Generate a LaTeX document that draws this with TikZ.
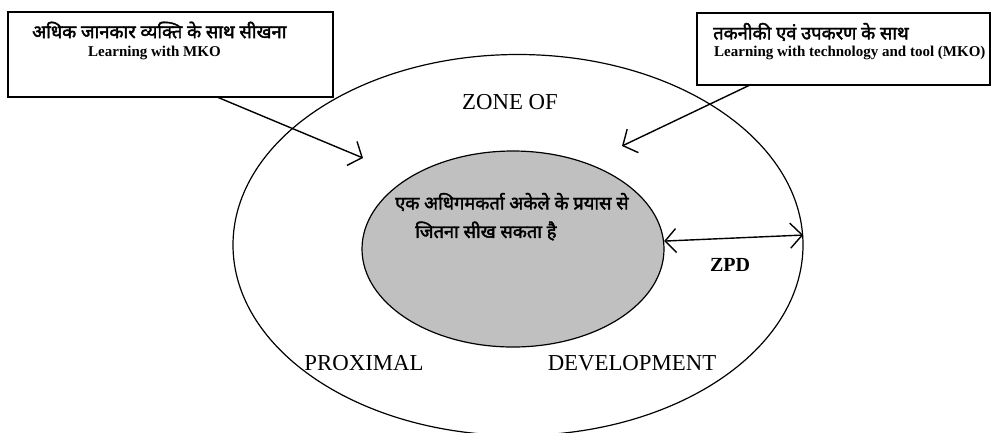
\documentclass[tikz,border=0pt]{standalone}
\usepackage{fontspec}
\setmainfont{Liberation Serif}
\newfontfamily\hindi[Script=Devanagari,FakeBold=2.2]{Noto Sans}
\usetikzlibrary{shapes.geometric,arrows.meta}
\definecolor{innergray}{RGB}{192,192,192}
\tikzset{
  ring/.style={ellipse, draw, line width=1.2pt, inner sep=0pt},
  notebox/.style={rectangle, draw, line width=1.8pt, inner sep=0pt},
  hi/.style={font=\hindi\fontsize{18.3}{22}\selectfont, inner sep=0pt, anchor=west},
  en/.style={font=\bfseries\fontsize{15}{18}\selectfont, inner sep=0pt, anchor=west},
  zone/.style={font=\fontsize{22.8}{26}\selectfont, inner sep=0pt},
  pointer/.style={line width=1.4pt, -{Straight Barb[length=11pt,width=26pt]}},
  span/.style={line width=1.4pt, {Straight Barb[length=11pt,width=24pt]}-{Straight Barb[length=12pt,width=25pt]}}
}
\begin{document}
\begin{tikzpicture}[x=1pt,y=-1pt]
\useasboundingbox (0,0) rectangle (992,432);
% rings
\node[ring, minimum width=570pt, minimum height=381pt] (outer) at (518,245) {};
\node[ring, fill=innergray, minimum width=302pt, minimum height=196pt] (inner) at (513,249) {};
% boxes
\node[notebox, minimum width=325pt, minimum height=85pt] (lbox) at (170.5,54.5) {};
\node[notebox, minimum width=293pt, minimum height=72pt] (rbox) at (843.5,49) {};
% box texts
\node[hi] (lhi) at (32,30) {अधिक जानकार व्यक्ति के साथ सीखना};
\node[en] (len) at (88,53) {Learning with MKO};
\node[hi] (rhi) at (713,32) {तकनीकी एवं उपकरण के साथ};
\node[en] (ren) at (714,53) {Learning with technology and tool (MKO)};
% inner text
\node[hi] (ihi1) at (395,202) {एक अधिगमकर्ता अकेले के प्रयास से};
\node[hi] (ihi2) at (415,231) {जितना सीख सकता है};
% zone labels
\node[zone] (zone) at (510,102) {ZONE OF};
\node[zone] (prox) at (364,363) {PROXIMAL};
\node[zone] (dev) at (632,363) {DEVELOPMENT};
\node[font=\bfseries\fontsize{20}{24}\selectfont, inner sep=0pt] (zpd) at (730,265) {ZPD};
% connectors
\coordinate (lstart) at (217,97);
\coordinate (ltip) at (363,158);
\coordinate (rstart) at (750,85);
\coordinate (rtip) at (622,146);
\draw[pointer] (lstart) -- (ltip);
\draw[pointer] (rstart) -- (rtip);
\draw[span] (inner.3) -- (outer.2);
\end{tikzpicture}
\end{document}
